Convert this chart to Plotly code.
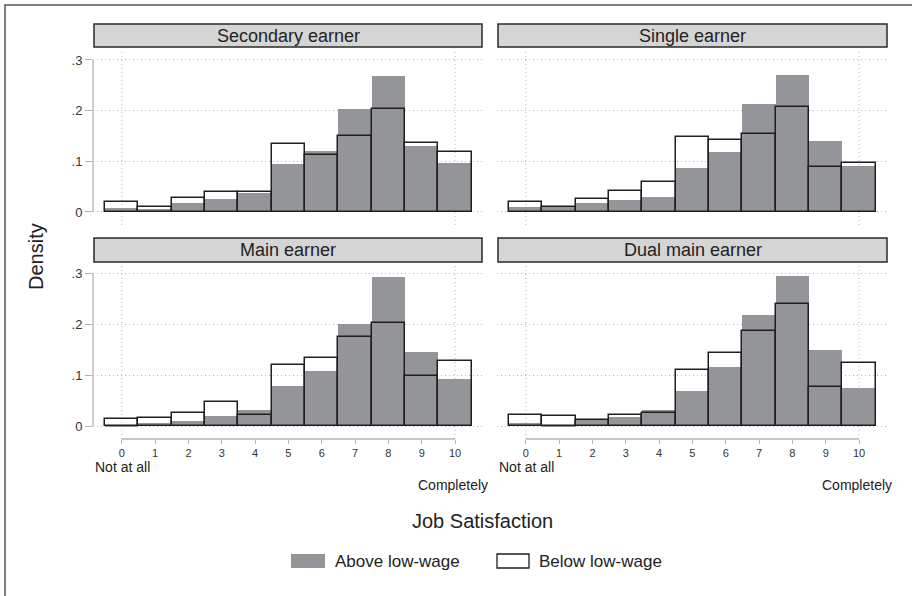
import plotly.graph_objects as go

# ---------------- data ----------------
scores = list(range(11))
score_labels = [str(s) for s in scores]
panel_titles = ["Secondary earner", "Single earner", "Main earner", "Dual main earner"]
series_names = ["Above low-wage", "Below low-wage"]
y_tickvals = [0, 0.1, 0.2, 0.3]
y_ticktext = ["0", ".1", ".2", ".3"]
endpoint_labels = ["Not at all", "Completely"]
x_title = "Job Satisfaction"
y_title = "Density"

secondary_above = [0.007, 0.006, 0.017, 0.026, 0.037, 0.095, 0.120, 0.203, 0.268, 0.130, 0.097]
secondary_below = [0.020, 0.009, 0.028, 0.039, 0.039, 0.135, 0.112, 0.150, 0.204, 0.137, 0.119]
single_above = [0.010, 0.009, 0.018, 0.024, 0.030, 0.087, 0.119, 0.213, 0.270, 0.140, 0.090]
single_below = [0.019, 0.009, 0.026, 0.041, 0.060, 0.148, 0.143, 0.154, 0.208, 0.089, 0.096]
main_above = [0.003, 0.006, 0.011, 0.020, 0.032, 0.079, 0.109, 0.200, 0.293, 0.146, 0.093]
main_below = [0.014, 0.017, 0.027, 0.047, 0.022, 0.120, 0.133, 0.176, 0.202, 0.099, 0.128]
dual_above = [0.006, 0.001, 0.012, 0.018, 0.032, 0.070, 0.116, 0.218, 0.295, 0.150, 0.076]
dual_below = [0.023, 0.021, 0.013, 0.023, 0.026, 0.110, 0.143, 0.186, 0.239, 0.078, 0.124]

panel_above = [secondary_above, single_above, main_above, dual_above]
panel_below = [secondary_below, single_below, main_below, dual_below]

# ---------------- style / layout ----------------
W, H = 912, 596
FONT = "Liberation Sans, Arial, Helvetica, sans-serif"
TXT = "#222222"
GRAY_BAR = "#939598"
STRIP_FILL = "#d5d5d5"
GRID = "#b8b8b8"
AXIS = "#b4b4b4"
DOT = "1px,3px"


def fx(p):
    return p / W


def fy(p):
    return 1 - p / H


cols = [(93, 482), (497, 886)]
rows = [(49, 225), (263, 439)]
y_ranges = [[-0.0257, 0.3217], [-0.0249, 0.3202]]
x_range = [-0.865, 10.81]
strip_cols = [(94, 482), (498, 887)]
strip_rows = [(24, 47), (238, 262)]

fig = go.Figure()
shapes = []
annotations = []

for i in range(4):
    r, c = divmod(i, 2)
    n = "" if i == 0 else str(i + 1)
    xa, ya = "x" + n, "y" + n
    fig.add_trace(go.Bar(x=scores, y=panel_above[i], width=1, xaxis=xa, yaxis=ya,
                         marker=dict(color=GRAY_BAR, line=dict(width=0)),
                         name=series_names[0], showlegend=False))
    fig.add_trace(go.Bar(x=scores, y=panel_below[i], width=1, xaxis=xa, yaxis=ya,
                         marker=dict(color="rgba(0,0,0,0)", line=dict(color="#1e1e1e", width=1.5)),
                         name=series_names[1], showlegend=False))

    xaxis = dict(domain=[fx(cols[c][0]), fx(cols[c][1])], range=x_range, anchor=ya,
                 showgrid=False, zeroline=False, showline=False, fixedrange=True)
    if r == 1:
        xaxis.update(tickvals=scores, ticktext=score_labels, ticks="outside", ticklen=4,
                     tickwidth=1.3, tickcolor=AXIS,
                     tickfont=dict(family=FONT, size=11, color="#333333"))
    else:
        xaxis.update(showticklabels=False, ticks="")
    yaxis = dict(domain=[fy(rows[r][1]), fy(rows[r][0])], range=y_ranges[r], anchor=xa,
                 tickvals=y_tickvals, ticktext=y_ticktext, showgrid=True, gridcolor=GRID,
                 griddash=DOT, gridwidth=1, zeroline=False, showline=False, fixedrange=True)
    if c == 0:
        yaxis.update(ticks="outside", ticklen=7, tickwidth=1.3, tickcolor=AXIS,
                     tickfont=dict(family=FONT, size=13, color="#333333"))
        shapes.append(dict(type="line", xref=xa + " domain", yref=ya, x0=0, x1=0,
                           y0=y_tickvals[0], y1=y_tickvals[-1], line=dict(color=AXIS, width=1.3)))
    else:
        yaxis.update(showticklabels=False, ticks="")
    fig.layout["xaxis" + n] = xaxis
    fig.layout["yaxis" + n] = yaxis

    # vertical gridlines at the scale ends
    for sv in (scores[0], scores[-1]):
        shapes.append(dict(type="line", xref=xa, yref=ya + " domain", x0=sv, x1=sv, y0=0, y1=1,
                           line=dict(color=GRID, width=1, dash=DOT), layer="below"))
    if r == 1:
        shapes.append(dict(type="line", xref=xa, yref=ya + " domain", x0=scores[0], x1=scores[-1],
                           y0=0, y1=0, line=dict(color=AXIS, width=1.3)))
        annotations.append(dict(text=endpoint_labels[0], xref="paper", yref="paper",
                                x=fx(cols[c][0]), y=fy(466.5), xanchor="left", yanchor="middle",
                                showarrow=False, font=dict(family=FONT, size=14, color=TXT)))
        annotations.append(dict(text=endpoint_labels[1], xref="paper", yref="paper",
                                x=fx(cols[c][1] + 8), y=fy(485), xanchor="right", yanchor="middle",
                                showarrow=False, font=dict(family=FONT, size=14, color=TXT)))

    # strip header
    sx0, sx1 = strip_cols[c]
    sy0, sy1 = strip_rows[r]
    shapes.append(dict(type="rect", xref="paper", yref="paper", x0=fx(sx0), x1=fx(sx1),
                       y0=fy(sy1), y1=fy(sy0), fillcolor=STRIP_FILL,
                       line=dict(color="#2a2a2a", width=1.5)))
    annotations.append(dict(text=panel_titles[i], xref="paper", yref="paper",
                            x=fx((sx0 + sx1) / 2), y=fy((sy0 + sy1) / 2), xanchor="center",
                            yanchor="middle", showarrow=False,
                            font=dict(family=FONT, size=18, color=TXT)))

# outer frame (cropped on right/bottom)
shapes.append(dict(type="rect", xref="paper", yref="paper", x0=fx(5), x1=1.05, y0=-0.05, y1=fy(5),
                   line=dict(color="#555555", width=1.5), fillcolor="rgba(0,0,0,0)"))

# axis titles
annotations.append(dict(text=y_title, xref="paper", yref="paper", x=fx(36), y=fy(257),
                        textangle=-90, showarrow=False, xanchor="center", yanchor="middle",
                        font=dict(family=FONT, size=20, color=TXT)))
annotations.append(dict(text=x_title, xref="paper", yref="paper", x=fx(482), y=fy(521),
                        showarrow=False, xanchor="center", yanchor="middle",
                        font=dict(family=FONT, size=20, color=TXT)))

# legend (manual)
leg = [(291, 325, GRAY_BAR, "rgba(0,0,0,0)", 0), (497, 529, "white", "#1e1e1e", 1.3)]
for k, (lx0, lx1, fc, lc, lw) in enumerate(leg):
    shapes.append(dict(type="rect", xref="paper", yref="paper", x0=fx(lx0), x1=fx(lx1),
                       y0=fy(568), y1=fy(554), fillcolor=fc, line=dict(color=lc, width=lw)))
    annotations.append(dict(text=series_names[k], xref="paper", yref="paper", x=fx(lx1 + 8),
                            y=fy(561), xanchor="left", yanchor="middle", showarrow=False,
                            font=dict(family=FONT, size=17, color=TXT)))

fig.update_layout(width=W, height=H, margin=dict(l=0, r=0, t=0, b=0),
                  paper_bgcolor="white", plot_bgcolor="white", barmode="overlay",
                  bargap=0, showlegend=False, shapes=shapes, annotations=annotations)

fig.write_html("out.html", config={"displayModeBar": False},
               post_script="document.body.style.margin='0';document.body.style.overflow='hidden';")
